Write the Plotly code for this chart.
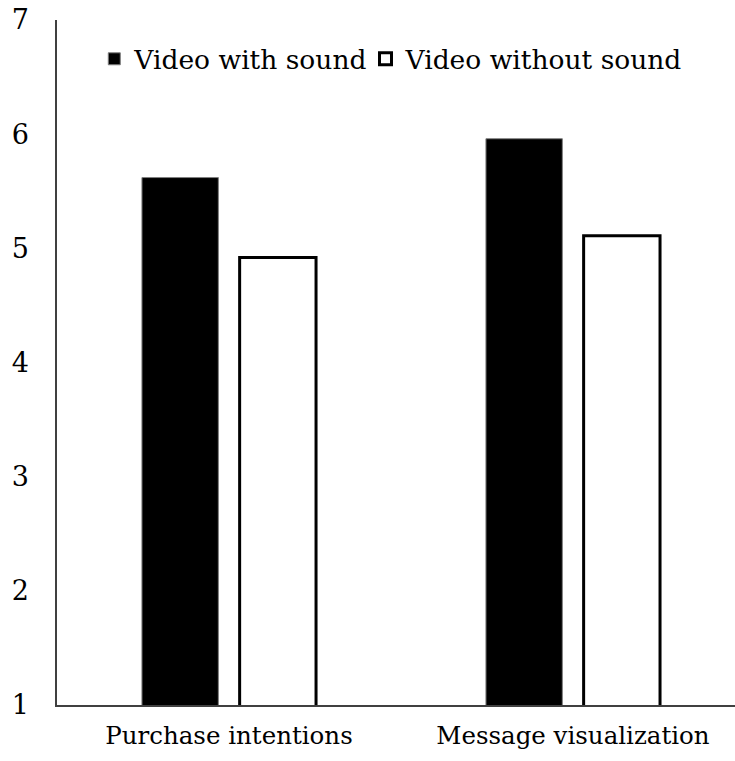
import plotly.graph_objects as go

# Mean ratings per measure, by video condition
categories = ["Purchase intentions", "Message visualization"]
with_sound = [5.62, 5.96]
without_sound = [4.92, 5.11]
y_ticks = [1, 2, 3, 4, 5, 6, 7]

FONT = "DejaVu Serif"

fig = go.Figure()
fig.add_trace(go.Bar(
    name="Video with sound",
    x=categories, y=with_sound,
    marker=dict(color="black", line=dict(color="#7f7f7f", width=1)),
    legend="legend",
))
fig.add_trace(go.Bar(
    name="Video without sound",
    x=categories, y=without_sound,
    marker=dict(color="white", line=dict(color="black", width=3)),
    legend="legend2",
))

legend_style = dict(
    orientation="h", y=0.978, xanchor="left", yanchor="top",
    font=dict(family=FONT, size=26.5, color="black"),
    bgcolor="rgba(0,0,0,0)", itemwidth=30,
)

fig.update_layout(
    width=735, height=761,
    margin=dict(l=57, r=0, t=20, b=56),
    paper_bgcolor="white", plot_bgcolor="white",
    barmode="group", bargap=0.432, bargroupgap=0.218,
    font=dict(family=FONT, size=25, color="black"),
    showlegend=True,
    legend=dict(x=0.055, **legend_style),
    legend2=dict(x=0.455, **legend_style),
    xaxis=dict(
        type="category", range=[-0.5, 1.471],
        showline=True, linecolor="#404040", linewidth=1.5,
        ticks="", showgrid=False, zeroline=False,
        tickfont=dict(family=FONT, size=24.5), ticklabelstandoff=8,
    ),
    yaxis=dict(
        range=[1, 7], tickvals=y_ticks,
        showline=True, linecolor="#404040", linewidth=1.5,
        ticks="", showgrid=False, zeroline=False,
        tickfont=dict(family=FONT, size=27), ticklabelstandoff=21,
    ),
)

fig.write_html("out.html")
